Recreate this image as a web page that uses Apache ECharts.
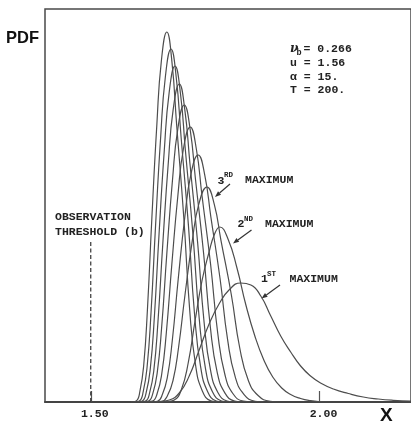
<!DOCTYPE html>
<html>
<head>
<meta charset="utf-8">
<script src="https://cdn.jsdelivr.net/npm/echarts@6/dist/echarts.min.js"></script>
<style>
html,body{margin:0;padding:0;background:#fff;}
#chart{width:411px;height:426px;}
</style>
</head>
<body>
<div id="chart"></div>
<script>
// x values (X) and PDF values for the k-th maximum curves
const pdf1X = [1.6283,1.65,1.6717,1.6935,1.7152,1.7370,1.7587,1.7804,1.8022,1.8276,1.85,1.8717,1.8935,1.9152,1.9370,1.9587,1.9804,2.0022,2.0304,2.0630,2.0957,2.1283,2.1609,2.2];
const pdf1Y = [0,0.025,0.1,0.45,1.3,2.6,3.9,4.9,5.6,5.95,5.85,5.3,4.3,3.3,2.5,1.8,1.3,0.95,0.65,0.425,0.25,0.15,0.085,0.04];
const pdf2X = [1.65,1.6674,1.6826,1.6978,1.7130,1.7283,1.7435,1.7587,1.7707,1.7820,1.8,1.8196,1.8391,1.8587,1.8783,1.8978,1.9174,1.9370,1.9587,1.9804,2.0022,2.0239];
const pdf2Y = [0,0.025,0.1,0.6,1.95,4.1,6.1,7.5,8.4,8.75,8.15,6.7,4.85,3.3,2.1,1.25,0.7,0.375,0.175,0.065,0.015,0];
const pdf3X = [1.6391,1.6559,1.6678,1.6798,1.6917,1.7061,1.7219,1.7362,1.7539,1.7699,1.7848,1.8072,1.8258,1.8445,1.8658,1.8924,1.9137];
const pdf3Y = [0,0.032,0.3225,1.075,2.6875,5.375,8.06,9.89,10.75,9.89,8.06,5.375,2.6875,1.075,0.3225,0.032,0];
const pdf4X = [1.6304,1.6457,1.6565,1.6674,1.6783,1.6913,1.7057,1.7187,1.7348,1.7491,1.7625,1.7826,1.7993,1.8161,1.8352,1.8591,1.8783];
const pdf4Y = [0,0.037,0.37,1.235,3.09,6.175,9.26,11.36,12.35,11.36,9.26,6.175,3.09,1.235,0.37,0.037,0];
const pdf5X = [1.6209,1.6349,1.6450,1.6550,1.6651,1.6772,1.6904,1.7025,1.7174,1.7308,1.7432,1.7620,1.7776,1.7932,1.8110,1.8333,1.8511];
const pdf5Y = [0,0.041,0.4125,1.375,3.4375,6.875,10.31,12.65,13.75,12.65,10.31,6.875,3.4375,1.375,0.4125,0.041,0];
const pdf6X = [1.6130,1.6263,1.6359,1.6454,1.6549,1.6663,1.6788,1.6903,1.7043,1.7171,1.7289,1.7467,1.7616,1.7764,1.7934,1.8146,1.8315];
const pdf6Y = [0,0.045,0.446,1.485,3.71,7.425,11.14,13.66,14.85,13.66,11.14,7.425,3.71,1.485,0.446,0.045,0];
const pdf7X = [1.6074,1.6199,1.6289,1.6379,1.6468,1.6576,1.6694,1.6802,1.6935,1.7055,1.7168,1.7337,1.7478,1.7618,1.7779,1.7980,1.8141];
const pdf7Y = [0,0.048,0.477,1.59,3.975,7.95,11.925,14.63,15.9,14.63,11.925,7.95,3.975,1.59,0.477,0.048,0];
const pdf8X = [1.6007,1.6128,1.6215,1.6302,1.6389,1.6493,1.6608,1.6713,1.6841,1.6959,1.7068,1.7233,1.7370,1.7507,1.7663,1.7859,1.8015];
const pdf8Y = [0,0.05,0.504,1.68,4.2,8.4,12.6,15.46,16.8,15.46,12.6,8.4,4.2,1.68,0.504,0.05,0];
const pdf9X = [1.5946,1.6063,1.6148,1.6232,1.6316,1.6417,1.6528,1.6630,1.6754,1.6868,1.6975,1.7135,1.7268,1.7401,1.7553,1.7743,1.7896];
const pdf9Y = [0,0.053,0.53,1.765,4.41,8.83,13.24,16.24,17.65,16.24,13.24,8.83,4.41,1.765,0.53,0.053,0];
const pdf10X = [1.588,1.5995,1.6076,1.6158,1.6239,1.6337,1.6445,1.6542,1.6663,1.6774,1.6877,1.7033,1.7162,1.7291,1.7439,1.7624,1.7772];
const pdf10Y = [0,0.056,0.555,1.85,4.625,9.25,13.875,17.02,18.5,17.02,13.875,9.25,4.625,1.85,0.555,0.056,0];

const curveXs = [pdf1X,pdf2X,pdf3X,pdf4X,pdf5X,pdf6X,pdf7X,pdf8X,pdf9X,pdf10X];
const curveYs = [pdf1Y,pdf2Y,pdf3Y,pdf4Y,pdf5Y,pdf6Y,pdf7Y,pdf8Y,pdf9Y,pdf10Y];

const tickValues = [1.5, 2.0];
const thresholdX = [1.5, 1.5];
const thresholdY = [0, 8.1];
const paramLines = ['u = 1.56', '\u03b1 = 15.', 'T = 200.'];

const mono = '"Liberation Mono", "DejaVu Sans Mono", monospace';
const ink = '#222';
const lineColor = '#4d4d4d';

const chart = echarts.init(document.getElementById('chart'), null, {renderer: 'canvas'});

const series = curveXs.map((xs, i) => ({
  type: 'line',
  name: 'k' + (i + 1),
  data: xs.map((x, j) => [x, curveYs[i][j]]),
  smooth: 0.5,
  showSymbol: false,
  symbol: 'none',
  silent: true,
  clip: true,
  lineStyle: {color: lineColor, width: 1.2}
}));

series.push({
  type: 'line',
  name: 'threshold',
  data: thresholdX.map((x, j) => [x, thresholdY[j]]),
  symbol: 'none',
  silent: true,
  lineStyle: {color: '#333', width: 1.2, type: [4, 2.5]}
});

function txt(text, x, y, size, extra) {
  return Object.assign({
    type: 'text',
    silent: true,
    style: {
      text: text, x: x, y: y,
      fontFamily: mono, fontSize: size, fontWeight: 'bold',
      fill: ink, verticalAlign: 'middle', align: 'left'
    }
  }, extra || {});
}

function arrow(x1, y1, x2, y2) {
  const dx = x2 - x1, dy = y2 - y1;
  const L = Math.sqrt(dx * dx + dy * dy);
  const ux = dx / L, uy = dy / L;
  const bx = x2 - ux * 6, by = y2 - uy * 6;
  const px = -uy * 2.3, py = ux * 2.3;
  return [
    {type: 'line', silent: true, shape: {x1: x1, y1: y1, x2: bx, y2: by},
     style: {stroke: '#333', lineWidth: 1.2}},
    {type: 'polygon', silent: true,
     shape: {points: [[x2, y2], [bx + px, by + py], [bx - px, by - py]]},
     style: {fill: '#333'}}
  ];
}

const graphics = [
  {type: 'text', silent: true, style: {text: 'PDF', x: 6, y: 38,
    fontFamily: '"Liberation Sans", Arial, sans-serif', fontSize: 16.5, fontWeight: 'bold',
    fill: '#111', verticalAlign: 'middle'}},
  {type: 'text', silent: true, style: {text: 'X', x: 380, y: 416,
    fontFamily: '"Liberation Sans", Arial, sans-serif', fontSize: 19, fontWeight: 'bold',
    fill: '#111', verticalAlign: 'middle'}},
  // parameters
  {type: 'text', silent: true, style: {text: '\u03bd', x: 290, y: 48.5,
    fontFamily: '"DejaVu Serif", serif', fontStyle: 'italic', fontSize: 12, fontWeight: 'bold',
    fill: ink, verticalAlign: 'middle'}},
  txt('b', 296.5, 52.5, 8.5),
  txt('= 0.266', 303.5, 49.3, 11.5),
  txt(paramLines[0], 290, 62.7, 11.5),
  txt(paramLines[1], 290, 76.7, 11.5),
  txt(paramLines[2], 290, 90, 11.5),
  // observation threshold
  txt('OBSERVATION', 55, 217.5, 11.5),
  txt('THRESHOLD (b)', 55, 232.5, 11.5),
  // 3rd maximum
  txt('3', 217.5, 181, 11.5),
  txt('RD', 224, 175.5, 7.5),
  txt('MAXIMUM', 245, 180.5, 11.5),
  // 2nd maximum
  txt('2', 237.5, 224.5, 11.5),
  txt('ND', 244, 219.5, 7.5),
  txt('MAXIMUM', 265, 224, 11.5),
  // 1st maximum
  txt('1', 261, 279.5, 11.5),
  txt('ST', 267, 274.5, 7.5),
  txt('MAXIMUM', 289.5, 279, 11.5)
].concat(arrow(230, 184, 215, 197))
 .concat(arrow(251.5, 230, 233, 243.5))
 .concat(arrow(280, 285, 261.5, 298.5));

chart.setOption({
  animation: false,
  backgroundColor: '#fff',
  grid: {
    left: 45, top: 9, width: 368, height: 393,
    show: true, borderColor: '#4a4a4a', borderWidth: 1.5, backgroundColor: 'transparent'
  },
  xAxis: {
    type: 'value', min: 1.4, max: 2.2,
    axisLine: {show: true, lineStyle: {color: '#444', width: 2}},
    axisTick: {show: true, inside: true, length: 11, customValues: tickValues,
      lineStyle: {color: '#555', width: 1.2}},
    axisLabel: {show: true, customValues: tickValues, margin: 6,
      formatter: v => v.toFixed(2),
      fontFamily: mono, fontWeight: 'bold', fontSize: 11.5, color: ink,
      padding: [0, 0, 0, 8]},
    splitLine: {show: false}
  },
  yAxis: {
    type: 'value', min: 0, max: 19.65,
    axisLine: {show: false}, axisTick: {show: false},
    axisLabel: {show: false}, splitLine: {show: false}
  },
  series: series,
  graphic: graphics
});
</script>
</body>
</html>
